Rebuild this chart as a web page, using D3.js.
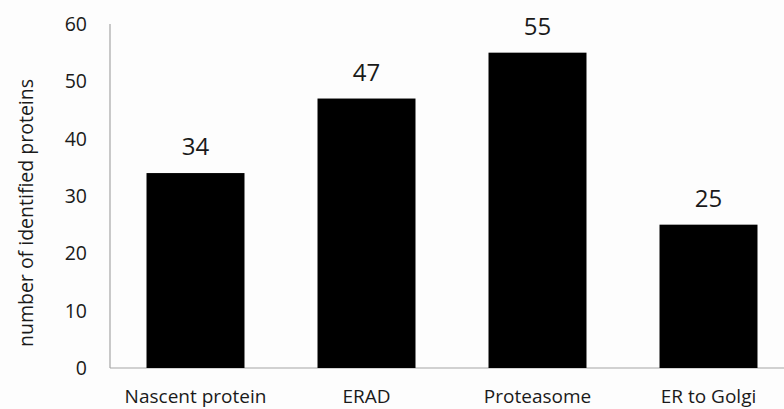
<!DOCTYPE html>
<html><head><meta charset="utf-8">
<script src="https://cdn.jsdelivr.net/npm/d3@7"></script>
<style>body{margin:0;background:#fff;}text{font-family:"Open Sans",sans-serif;}</style>
</head><body><svg id="c" width="784" height="409"></svg>
<script>
const categories = ["Nascent protein","ERAD","Proteasome","ER to Golgi"];
const values = [34,47,55,25];
const yTicks = [0,10,20,30,40,50,60];
const yTitle = "number of identified proteins";

const svg = d3.select("#c");
const x = d3.scaleBand().domain(categories).range([110,794]).paddingInner(0.427).paddingOuter(0.2135);
const y = d3.scaleLinear().domain([0,60]).range([368,24]);

svg.append("rect").attr("width",784).attr("height",409).attr("fill","#fdfdfd");

svg.append("line").attr("x1",110).attr("x2",110).attr("y1",y(60)).attr("y2",y(0)).attr("stroke","#a6a6a6").attr("stroke-width",1.2);
svg.append("line").attr("x1",110).attr("x2",784).attr("y1",y(0)).attr("y2",y(0)).attr("stroke","#a6a6a6").attr("stroke-width",1.2);

svg.selectAll(".yt").data(yTicks).enter().append("text")
  .attr("x",87).attr("y",d=>y(d)).attr("dy","0.36em").attr("text-anchor","end")
  .attr("font-size",19.5).attr("fill","#1a1a1a").text(d=>d);

svg.selectAll(".bar").data(values).enter().append("rect")
  .attr("x",(d,i)=>x(categories[i])).attr("width",x.bandwidth())
  .attr("y",d=>y(d)).attr("height",d=>y(0)-y(d)).attr("fill","#000");

svg.selectAll(".vl").data(values).enter().append("text")
  .attr("x",(d,i)=>x(categories[i])+x.bandwidth()/2).attr("y",d=>y(d)-18)
  .attr("text-anchor","middle").attr("font-size",24).attr("fill","#1a1a1a").text(d=>d);

svg.selectAll(".cl").data(categories).enter().append("text")
  .attr("x",d=>x(d)+x.bandwidth()/2).attr("y",403)
  .attr("text-anchor","middle").attr("font-size",19).attr("fill","#1a1a1a").text(d=>d);

svg.append("text").attr("transform","translate(33,213) rotate(-90)")
  .attr("text-anchor","middle").attr("font-size",19.5).attr("fill","#1a1a1a").text(yTitle);
</script></body></html>
